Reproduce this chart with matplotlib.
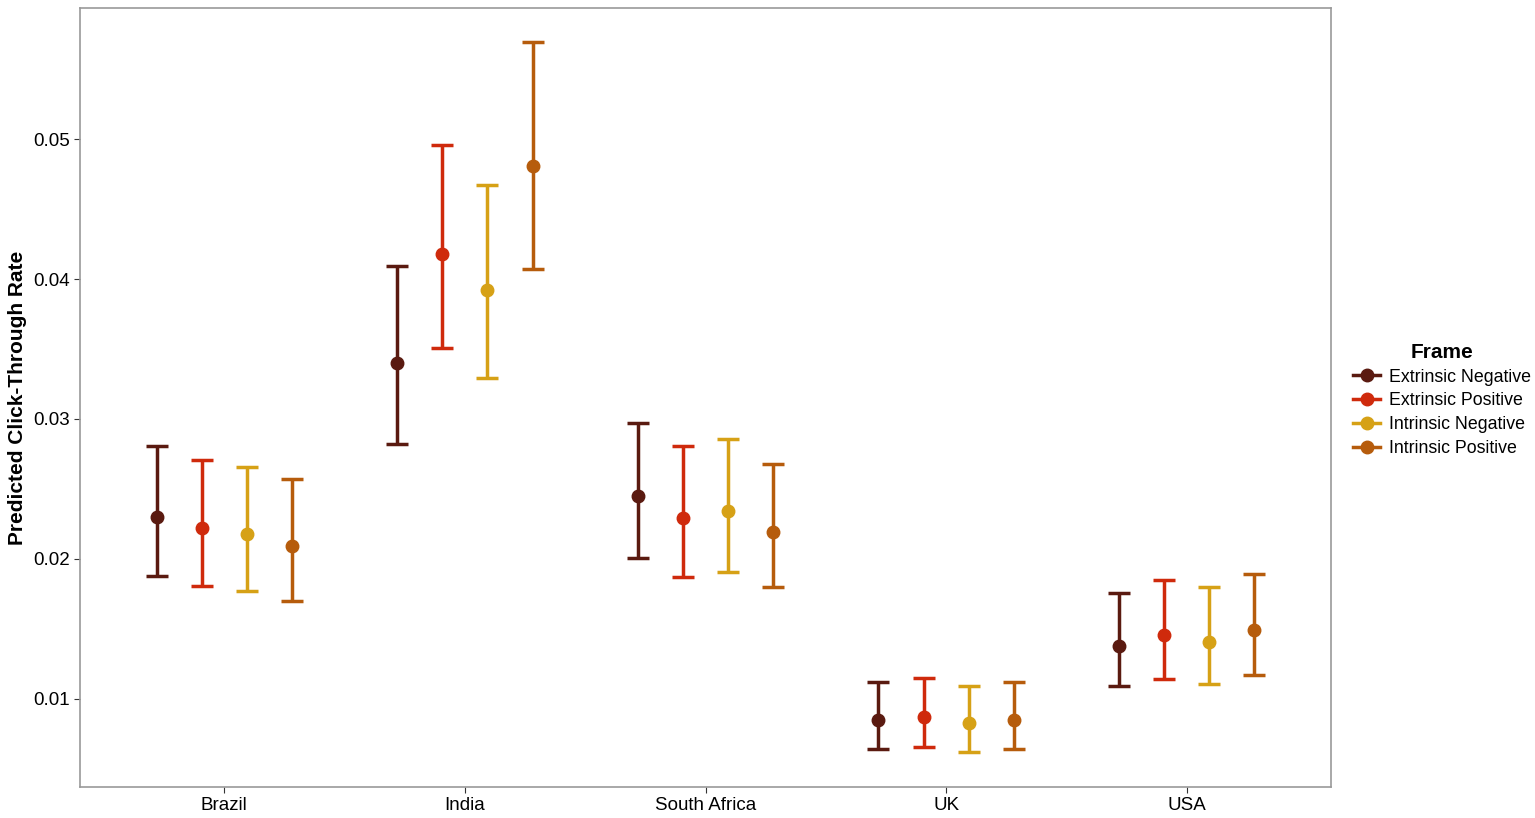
import numpy as np
import matplotlib
matplotlib.use("Agg")
import matplotlib.pyplot as plt
from matplotlib.lines import Line2D

plt.rcParams['font.family'] = ['Liberation Sans', 'DejaVu Sans']

countries = ["Brazil", "India", "South Africa", "UK", "USA"]
frames = ["Extrinsic Negative", "Extrinsic Positive", "Intrinsic Negative", "Intrinsic Positive"]
colors = ["#5a1a10", "#cf2a0c", "#d6a116", "#b65c0c"]

# predicted values, lower and upper bounds per frame (order = countries)
en_fit = [0.0230, 0.0340, 0.0245, 0.0085, 0.0138]
en_lo = [0.0188, 0.0282, 0.0201, 0.0064, 0.0109]
en_hi = [0.0281, 0.0409, 0.0297, 0.0112, 0.0176]

ep_fit = [0.0222, 0.0418, 0.0229, 0.0087, 0.0146]
ep_lo = [0.0181, 0.0351, 0.0187, 0.0066, 0.0114]
ep_hi = [0.0271, 0.0496, 0.0281, 0.0115, 0.0185]

in_fit = [0.0218, 0.0392, 0.0234, 0.0083, 0.0141]
in_lo = [0.0177, 0.0329, 0.0191, 0.0062, 0.0111]
in_hi = [0.0266, 0.0467, 0.0286, 0.0109, 0.0180]

ip_fit = [0.0209, 0.0481, 0.0219, 0.0085, 0.0149]
ip_lo = [0.0170, 0.0407, 0.0180, 0.0064, 0.0117]
ip_hi = [0.0257, 0.0569, 0.0268, 0.0112, 0.0189]

fits = [en_fit, ep_fit, in_fit, ip_fit]
los = [en_lo, ep_lo, in_lo, ip_lo]
his = [en_hi, ep_hi, in_hi, ip_hi]

fig = plt.figure(figsize=(15.35, 8.18), dpi=100)
ax = fig.add_axes([80 / 1535, 1 - 787 / 818, 1251 / 1535, 779 / 818])

x = np.arange(1, len(countries) + 1)
offsets = np.array([-3, -1, 1, 3]) * 0.75 / 8
for i, f in enumerate(frames):
    fit = np.array(fits[i])
    yerr = [fit - np.array(los[i]), np.array(his[i]) - fit]
    ax.errorbar(x + offsets[i], fit, yerr=yerr, fmt='o', color=colors[i],
                ms=9, elinewidth=2.5, capsize=8, capthick=2.5)

ax.set_xlim(0.4, 5.6)
ax.set_ylim(0.00371, 0.05936)
ax.set_xticks(x)
ax.set_xticklabels(countries)
ax.set_yticks([0.01, 0.02, 0.03, 0.04, 0.05])
ax.set_yticklabels(["0.01", "0.02", "0.03", "0.04", "0.05"])
ax.tick_params(labelsize=13.5, colors='#333333', labelcolor='black', length=4)
for s in ax.spines.values():
    s.set_color('#999999')
    s.set_linewidth(1.2)
ax.set_ylabel("Predicted Click-Through Rate", fontsize=15, fontweight='bold')

handles = [Line2D([0], [0], color=c, marker='o', ms=9, lw=2.5) for c in colors]
leg = ax.legend(handles, frames, title="Frame", loc='center left',
                bbox_to_anchor=(1.005, 0.497), frameon=False, fontsize=12.8,
                handlelength=1.5, handletextpad=0.5, labelspacing=0.38,
                title_fontproperties={'weight': 'bold', 'size': 15})

fig.savefig("out.png", dpi=100)
